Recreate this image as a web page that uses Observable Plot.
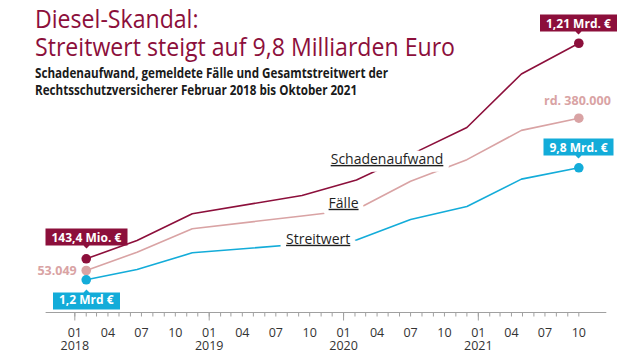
<!DOCTYPE html>
<html><head><meta charset="utf-8">
<script src="https://cdn.jsdelivr.net/npm/d3@7"></script>
<script src="https://cdn.jsdelivr.net/npm/@observablehq/plot@0.6"></script>
<style>
body{margin:0;background:#fff;}
#wrap{position:relative;width:640px;height:360px;overflow:hidden;font-family:"Open Sans",sans-serif;}
#chart{position:absolute;left:0;top:0;}
.head{position:absolute;left:35px;white-space:nowrap;transform-origin:0 0;}
.head span{display:inline-block;}
.t{color:#8c0f3b;font-size:26px;line-height:28px;top:4px;}
.s{color:#1a1a1a;font-size:13.5px;font-weight:700;line-height:17px;top:65px;}
</style></head><body>
<div id="wrap">
  <div id="chart"></div>
  <div class="head t" id="title"><span>Diesel-Skandal:</span><br><span id="t2">Streitwert steigt auf 9,8 Milliarden Euro</span></div>
  <div class="head s" id="sub"><span id="s1">Schadenaufwand, gemeldete Fälle und Gesamtstreitwert der</span><br><span>Rechtsschutzversicherer Februar 2018 bis Oktober 2021</span></div>
</div>
<script>
// ---- data ----
const dates = ["2018-02-01","2018-06-19","2018-11-16","2019-09-10","2020-02-05","2020-07-01","2020-12-01","2021-04-28","2021-10-01"];
const schaden = [143.4, 234, 366, 457, 533, 659, 793, 1058, 1210];          // Mio. €
const faelle = [53049, 92300, 142500, 170200, 184000, 244700, 291000, 353800, 380000]; // Fälle
const streitwert = [1.2, 1.99, 3.27, 3.95, 4.25, 5.83, 6.83, 8.93, 9.8];    // Mrd. €
const seriesNames = ["Schadenaufwand", "Fälle", "Streitwert"];
const seriesColors = ["#8c0f3b", "#d9a3a4", "#13acd9"];
const monthTickLabels = ["01", "04", "07", "10"];
const yearLabels = ["2018", "2019", "2020", "2021"];
const startLabels = ["143,4 Mio. €", "53.049", "1,2 Mrd €"];
const endLabels = ["1,21 Mrd. €", "rd. 380.000", "9,8 Mrd. €"];
const seriesLabelDates = ["2020-04-28", "2020-01-01", "2019-10-24"];
const seriesLabelValues = [635, 197300, 4.31];

// each series has its own value axis, mapped into a shared 0–100 band
const seriesMax = [1210, 380000, 9.8];
const bandLo = [7.92, 5.54, 5.48];
const bandHi = [86.3, 62.28, 46.38];
const values = [schaden, faelle, streitwert];
const toUnit = seriesNames.map((s, k) => d3.scaleLinear().domain([0, seriesMax[k]]).range([bandLo[k], bandHi[k]]));

const rows = seriesNames.flatMap((s, k) => dates.map((d, i) => ({
  series: s, k, date: new Date(d), value: values[k][i], u: toUnit[k](values[k][i])
})));
const first = seriesNames.map((s, k) => rows.find(r => r.k === k));
const last = seriesNames.map((s, k) => rows.filter(r => r.k === k).at(-1));
const seriesLabels = seriesNames.map((s, k) => ({
  name: s, k, date: new Date(seriesLabelDates[k]), u: toUnit[k](seriesLabelValues[k])
}));

const color = d => seriesColors[d.k];
const months = d3.utcMonth.range(new Date("2018-01-01"), new Date("2021-11-01"));
const years = d3.utcYear.range(new Date("2018-01-01"), new Date("2021-11-01"));
const quarters = d3.utcMonth.every(3).range(new Date("2018-01-01"), new Date("2021-11-01"));
const sp = "\u2002";

function boxTip(row, label, anchor, dy) {
  return Plot.tip([row], {
    x: "date", y: "u", title: () => sp + label + sp,
    anchor, dy, fill: seriesColors[row.k], stroke: "none",
    pathFilter: "none", pointerSize: 6, textPadding: 0,
    fontSize: 12, fontWeight: 700, fontFamily: "Open Sans", lineHeight: 1
  });
}

const labelOpts = {x: "date", y: "u", text: "name", fontSize: 14, lineAnchor: "middle", textAnchor: "middle"};

const chart = Plot.plot({
  width: 640, height: 360,
  marginTop: 0, marginBottom: 48, marginLeft: 45.6, marginRight: 33.7,
  x: {type: "utc", domain: [new Date("2017-10-15"), new Date("2021-12-16")], label: null},
  y: {domain: [0, 100], axis: null},
  style: {fontFamily: "Open Sans", background: "white", color: "#333"},
  marks: [
    Plot.ruleY([0], {stroke: "#a0a0a0", strokeWidth: 1}),
    Plot.axisX({ticks: months, tickSize: 4.5, fill: "none", stroke: "#a0a0a0", label: null}),
    Plot.axisX({ticks: years, tickSize: 8.5, fill: "none", stroke: "#a0a0a0", label: null}),
    Plot.axisX({ticks: quarters, tickSize: 0, tickPadding: 16, fontSize: 12.5, label: null, fill: "#333",
      tickFormat: d => monthTickLabels[d.getUTCMonth() / 3]}),
    Plot.axisX({ticks: years, tickSize: 0, tickPadding: 28.5, fontSize: 12.5, label: null, fill: "#333",
      tickFormat: d => yearLabels[d.getUTCFullYear() - 2018]}),
    Plot.line(rows, {x: "date", y: "u", z: "series", stroke: color, strokeWidth: 1.6, curve: "linear"}),
    // white knock-out behind the series names, then the names themselves
    Plot.text(seriesLabels, {...labelOpts, fill: "white", stroke: "white", strokeWidth: 11, strokeLinejoin: "round"}),
    Plot.text(seriesLabels, {...labelOpts, fill: "#1f1f1f"}),
    Plot.dot([...first, ...last], {x: "date", y: "u", r: 4.8, fill: color, stroke: "none"}),
    Plot.text([first[1]], {x: "date", y: "u", text: () => startLabels[1], fill: seriesColors[1], fontSize: 12.5,
      fontWeight: 700, textAnchor: "end", lineAnchor: "middle", dx: -9.5, dy: 0}),
    Plot.text([last[1]], {x: "date", y: "u", text: () => endLabels[1], fill: seriesColors[1], fontSize: 12.5,
      fontWeight: 700, textAnchor: "end", lineAnchor: "middle", dx: 32, dy: -17}),
    boxTip(first[0], startLabels[0], "bottom", -10),
    boxTip(first[2], startLabels[2], "top", 10),
    boxTip(last[0], endLabels[0], "bottom", -9),
    boxTip(last[2], endLabels[2], "bottom", -9)
  ]
});
document.getElementById("chart").append(chart);

// white text inside the label boxes, underlined series names
d3.select(chart).selectAll('g[aria-label="tip"] text, g[aria-label="tip"] tspan').attr("fill", "white").attr("stroke", "none");
d3.select(chart).selectAll("text").filter(function () { return seriesNames.includes(this.textContent); })
  .style("text-decoration", "underline").style("text-underline-offset", "2px");

// condense heading lines to the reference widths
function fit(divId, spanId, target) {
  const el = document.getElementById(divId);
  const w = document.getElementById(spanId).getBoundingClientRect().width;
  el.style.transform = `scaleX(${target / w})`;
}
fit("title", "t2", 420);
fit("sub", "s1", 353);
</script>
</body></html>
